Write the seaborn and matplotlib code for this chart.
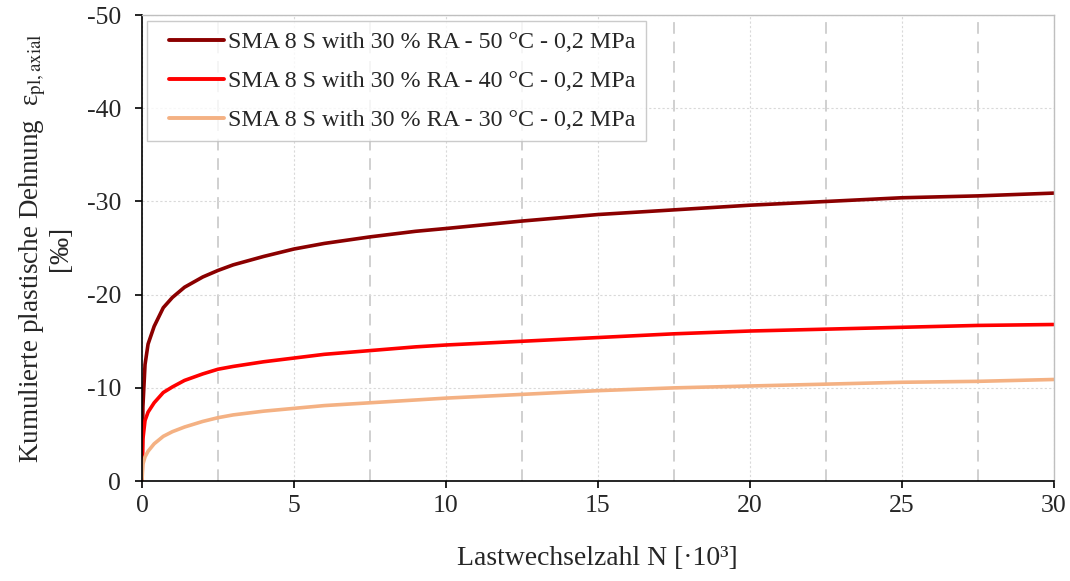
import matplotlib
matplotlib.use("Agg")
import matplotlib.pyplot as plt
from matplotlib.ticker import MultipleLocator
from matplotlib.legend_handler import HandlerLine2D
from matplotlib.lines import Line2D
import seaborn as sns
import pandas as pd

# ---- data ----
cycles = [0, 0.03, 0.1, 0.2, 0.4, 0.7, 1.0, 1.4, 2.0, 2.5, 3.0, 4.0, 5, 6,
          7.5, 9, 10, 12.5, 15, 17.5, 20, 22.5, 25, 27.5, 30]
strain_50 = [0, -8.0, -12.5, -14.7, -16.6, -18.6, -19.7, -20.8, -21.9, -22.6,
             -23.2, -24.1, -24.9, -25.5, -26.2, -26.8, -27.1, -27.9, -28.6,
             -29.1, -29.6, -30.0, -30.4, -30.6, -30.9]
strain_40 = [0, -4.5, -6.5, -7.4, -8.4, -9.5, -10.1, -10.8, -11.5, -12.0,
             -12.3, -12.8, -13.2, -13.6, -14.0, -14.4, -14.6, -15.0, -15.4,
             -15.8, -16.1, -16.3, -16.5, -16.7, -16.8]
strain_30 = [0, -1.8, -2.6, -3.2, -4.0, -4.8, -5.3, -5.8, -6.4, -6.8, -7.1,
             -7.5, -7.8, -8.1, -8.4, -8.7, -8.9, -9.3, -9.7, -10.0, -10.2,
             -10.4, -10.6, -10.7, -10.9]
series_names = ["SMA 8 S with 30 % RA - 50 °C - 0,2 MPa",
                "SMA 8 S with 30 % RA - 40 °C - 0,2 MPa",
                "SMA 8 S with 30 % RA - 30 °C - 0,2 MPa"]
colors = ["#8B0000", "#FF0000", "#F4B183"]

frames = []
for name, vals in zip(series_names, [strain_50, strain_40, strain_30]):
    frames.append(pd.DataFrame({"N": cycles, "eps": vals, "series": name}))
df = pd.concat(frames, ignore_index=True)

sns.set_style("white")
plt.rcParams["font.family"] = ["Liberation Serif", "DejaVu Serif"]
plt.rcParams["mathtext.fontset"] = "stix"
plt.rcParams["axes.unicode_minus"] = False

fig = plt.figure(figsize=(10.7, 5.81), dpi=100)
ax = fig.add_axes([0.1327, 0.172, 0.852, 0.802])

sns.lineplot(data=df, x="N", y="eps", hue="series", hue_order=series_names,
             palette=colors, linewidth=2.6, ax=ax, legend=True)

ax.set_xlim(0, 30)
ax.set_ylim(0, -50)
ax.xaxis.set_major_locator(MultipleLocator(5))
ax.xaxis.set_minor_locator(MultipleLocator(2.5))
ax.yaxis.set_major_locator(MultipleLocator(10))

ax.grid(which="major", axis="both", color="#d9d9d9", linestyle=(0, (2, 2)),
        linewidth=0.8)
ax.grid(which="minor", axis="x", color="#d0d0d0", linestyle=(0, (6, 4)),
        linewidth=1.4)
ax.set_axisbelow(True)

for s in ["top", "right"]:
    ax.spines[s].set_color("#bfbfbf")
    ax.spines[s].set_linewidth(1.0)
for s in ["left", "bottom"]:
    ax.spines[s].set_color("black")
    ax.spines[s].set_linewidth(1.2)

ax.tick_params(axis="both", which="major", direction="out", length=5,
               width=1.2, color="black", labelsize=18.5, pad=5,
               bottom=True, left=True)
ax.tick_params(axis="y", which="major", pad=10)
ax.tick_params(axis="x", which="minor", length=0)

ax.set_xlabel("Lastwechselzahl N [·10³]", fontsize=20, labelpad=21)
ax.set_ylabel("Kumulierte plastische Dehnung  ε$_{\\mathrm{pl,axial}}$\n[‰]",
              fontsize=19.5, labelpad=10, linespacing=1.0)

handles, labels = ax.get_legend_handles_labels()
leg = ax.legend(handles, labels, loc="upper left",
                bbox_to_anchor=(0.0055, 0.987), fontsize=17.3,
                frameon=True, fancybox=False, edgecolor="#bfbfbf",
                handlelength=2.8, handletextpad=0.15, borderpad=0.42,
                labelspacing=0.72, borderaxespad=0,
                handler_map={Line2D: HandlerLine2D(xpad=0.5)})
leg.get_frame().set_linewidth(1.0)
for line in leg.get_lines():
    line.set_linewidth(2.8)

fig.savefig("out.png", dpi=100)
